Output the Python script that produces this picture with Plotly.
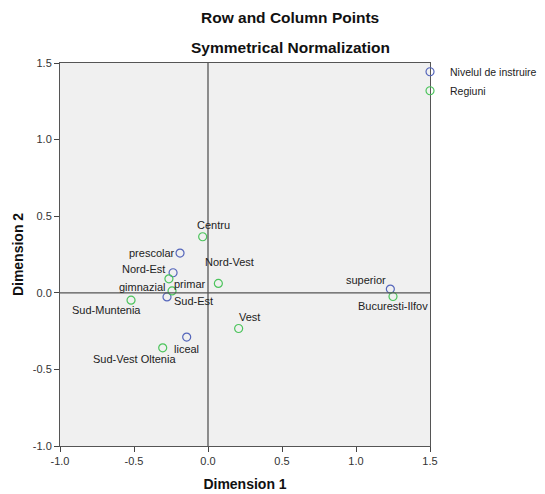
import plotly.graph_objects as go

# Nivelul de instruire (row points)
nivel_labels = ["prescolar", "primar", "gimnazial", "liceal", "superior"]
nivel_x = [-0.189, -0.236, -0.277, -0.144, 1.232]
nivel_y = [0.259, 0.131, -0.027, -0.289, 0.024]

# Regiuni (column points)
reg_labels = ["Centru", "Nord-Vest", "Nord-Est", "Sud-Est", "Sud-Muntenia",
              "Vest", "Sud-Vest Oltenia", "Bucuresti-Ilfov"]
reg_x = [-0.036, 0.070, -0.264, -0.243, -0.520, 0.207, -0.306, 1.250]
reg_y = [0.366, 0.061, 0.091, 0.012, -0.048, -0.233, -0.359, -0.024]

tick_vals = [-1.0, -0.5, 0.0, 0.5, 1.0, 1.5]
tick_text = ["-1.0", "-0.5", "0.0", "0.5", "1.0", "1.5"]

# label offsets in pixels (dx, dy screen)
nivel_off = [(-28, 0), (17, -11), (-25, 10), (0, -12), (-24, 9)]
reg_off = [(11, 12), (11, 21), (-25, 10), (21, -10), (-25, -10),
           (11, 12), (-28, -11), (0, -10)]

blue = "#5566BB"
green = "#4CC45C"
font = "Liberation Sans, Arial, sans-serif"

fig = go.Figure()
fig.add_trace(go.Scatter(x=nivel_x, y=nivel_y, mode="markers", name="Nivelul de instruire",
                         text=nivel_labels,
                         marker=dict(symbol="circle-open", size=8, color=blue, line=dict(width=1.2))))
fig.add_trace(go.Scatter(x=reg_x, y=reg_y, mode="markers", name="Regiuni",
                         text=reg_labels,
                         marker=dict(symbol="circle-open", size=8, color=green, line=dict(width=1.2))))

for xs, ys, labs, offs in [(nivel_x, nivel_y, nivel_labels, nivel_off),
                           (reg_x, reg_y, reg_labels, reg_off)]:
    for x, y, t, (dx, dy) in zip(xs, ys, labs, offs):
        fig.add_annotation(x=x, y=y, text=t, showarrow=False, xshift=dx, yshift=dy,
                           font=dict(size=11, color="#222222", family=font))

fig.add_shape(type="line", x0=0, x1=0, y0=-1.0, y1=1.5, line=dict(color="#555555", width=1.3))
fig.add_shape(type="line", x0=-1.0, x1=1.5, y0=0, y1=0, line=dict(color="#555555", width=1.3))

fig.add_annotation(text="<b>Row and Column Points</b>", xref="paper", yref="paper",
                   x=(290 - 60) / 370, y=1 + (63 - 18) / 383, showarrow=False,
                   xanchor="center", yanchor="middle",
                   font=dict(size=15.5, color="#111111", family=font))
fig.add_annotation(text="<b>Symmetrical Normalization</b>", xref="paper", yref="paper",
                   x=(290 - 60) / 370, y=1 + (63 - 48) / 383, showarrow=False,
                   xanchor="center", yanchor="middle",
                   font=dict(size=15.5, color="#111111", family=font))

axis = dict(showgrid=False, zeroline=False, ticks="outside", ticklen=5, tickcolor="#444444",
            showline=True, linecolor="#555555", linewidth=1, mirror=True, automargin=False,
            tickvals=tick_vals, ticktext=tick_text,
            tickfont=dict(size=11, color="#333333", family=font))

# page has an 8px body margin, so the figure is shrunk by 8px and margins shifted
fig.update_layout(
    width=537, height=486,
    margin=dict(l=52, r=115, t=55, b=48, autoexpand=False),
    paper_bgcolor="white", plot_bgcolor="#F0F0F0",
    font=dict(family=font),
    xaxis=dict(axis, range=[-1.0, 1.5],
               title=dict(text="<b>Dimension 1</b>", font=dict(size=14, color="#111111"), standoff=12)),
    yaxis=dict(axis, range=[-1.0, 1.5],
               title=dict(text="<b>Dimension 2</b>", font=dict(size=14, color="#111111"), standoff=5)),
    legend=dict(x=0.946, y=1.015, xanchor="left", yanchor="top", bgcolor="rgba(0,0,0,0)",
                font=dict(size=10.5, color="#222222"), itemsizing="trace",
                tracegroupgap=0, itemwidth=30),
    showlegend=True,
)

fig.write_html("out.html")
